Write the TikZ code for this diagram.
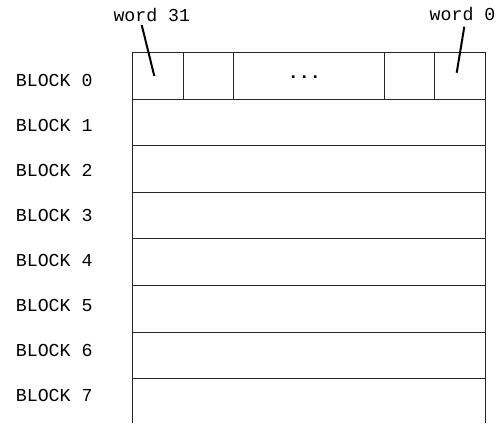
\documentclass[tikz,border=0pt]{standalone}
\usepackage{fontspec}
\setmonofont{Liberation Mono}
\begin{document}
\begin{tikzpicture}[x=1bp,y=-1bp,
  lbl/.style={anchor=base west,inner sep=0pt,font=\fontsize{18.3}{20}\ttfamily},
  grid/.style={line width=1bp,black!85},
  pointer/.style={line width=2bp,black}]
\useasboundingbox (0,0) rectangle (496,423);
% block labels
\foreach \k in {0,...,7}{
  \node[lbl] (b\k) at (15.7,{86+45.1*\k}) {BLOCK \k};
}
% word labels
\node[lbl] (w31) at (113.3,21.7) {word 31};
\node[lbl] (w0) at (429.5,20.5) {word 0};
% memory box
\draw[grid] (132,423) -- (132,52.5) -- (485.5,52.5) -- (485.5,423);
\foreach \y in {99.1,145.7,192.3,238.9,285.5,332.1,378.7}{
  \draw[grid] (132,\y) -- (485.5,\y);
}
\foreach \x in {183.3,233.5,384.3,434.7}{
  \draw[grid] (\x,52.5) -- (\x,99.1);
}
\node[inner sep=0pt,font=\fontsize{18.3}{20}\ttfamily\bfseries] (dots) at (304.3,77) {...};
% pointers
\coordinate (p31a) at (141.7,25);
\coordinate (p31b) at (154.3,76);
\coordinate (p0a) at (464.3,26.7);
\coordinate (p0b) at (456.7,72.7);
\draw[pointer] (p31a) -- (p31b);
\draw[pointer] (p0a) -- (p0b);
\end{tikzpicture}
\end{document}
